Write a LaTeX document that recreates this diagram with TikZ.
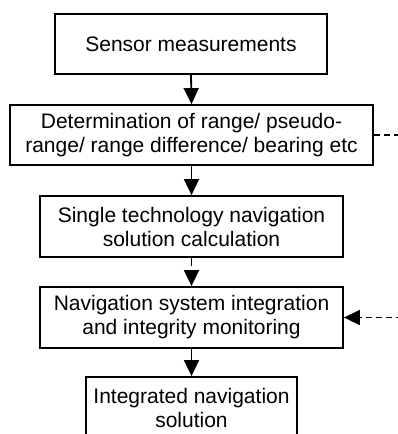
\documentclass[tikz,border=0pt]{standalone}
\usepackage{fontspec}
\setmainfont{Liberation Sans}
\usetikzlibrary{arrows.meta}
\begin{document}
\begin{tikzpicture}[x=1pt,y=-1pt,
  stage/.style={draw, line width=1.8pt, inner sep=0pt, align=center,
    font=\fontsize{21}{24}\selectfont},
  tip/.style={-{Triangle[length=16pt,width=15pt]}},
  flow/.style={line width=1.8pt, tip},
  feed/.style={line width=1.8pt, dash pattern=on 6pt off 4pt}]
  \useasboundingbox (0,0) rectangle (398,434);
  \clip (0,0) rectangle (398,434);
  % processing stages, top to bottom
  \node[stage, minimum width=272pt, minimum height=60pt] (s1) at (191,44) {Sensor measurements};
  \node[stage, minimum width=363pt, minimum height=60pt] (s2) at (191.5,135) {Determination of range/ pseudo-\\range/ range difference/ bearing etc};
  \node[stage, minimum width=303pt, minimum height=61pt] (s3) at (191.5,226.5) {Single technology navigation\\solution calculation};
  \node[stage, minimum width=303pt, minimum height=61pt] (s4) at (191.5,317.5) {Navigation system integration\\and integrity monitoring};
  \node[stage, minimum width=211pt, minimum height=61pt] (s5) at (191.5,407.5) {Integrated navigation\\solution};
  % loose ends of the side links
  \coordinate (r2) at (402,135);
  \coordinate (r4) at (402,317.5);
  \draw[flow] (s1.south) -- (s2.north);
  \draw[flow] (s2.south) -- (s3.north);
  \draw[flow, dash pattern=on 8pt off 6pt] (s3.south) -- (s4.north);
  \draw[flow] (s4.south) -- (s5.north);
  \draw[feed] (s2.east) -- (r2);
  \draw[feed, tip] (r4) -- (s4.east);
\end{tikzpicture}
\end{document}
